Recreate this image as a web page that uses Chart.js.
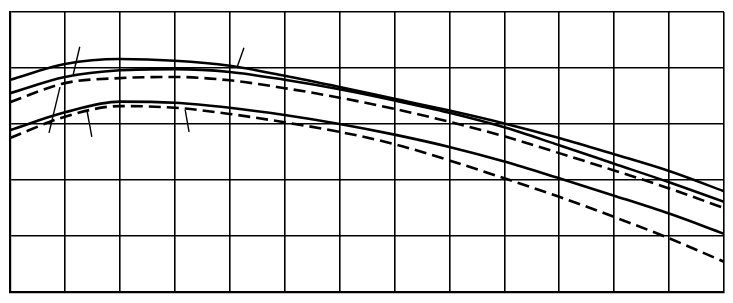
<!DOCTYPE html>
<html>
<head>
<meta charset="utf-8">
<script src="https://cdn.jsdelivr.net/npm/chart.js@4/dist/chart.umd.min.js"></script>
<style>
  html, body { margin: 0; padding: 0; background: #fff; }
  #wrap { width: 733px; height: 303px; }
</style>
</head>
<body>
<div id="wrap"><canvas id="curveChart"></canvas></div>
<script>
    // grid positions along x (13 divisions) and y (5 divisions)
    const xSteps = [0, 1, 2, 3, 4, 5, 6, 7, 8, 9, 10, 11, 12, 13];

    // upper group
    const upperSolidA = [3.79, 4.07, 4.16, 4.13, 4.04, 3.86, 3.66, 3.45, 3.24, 3.01, 2.75, 2.46, 2.16, 1.80];
    const upperSolidB = [3.55, 3.84, 3.96, 3.98, 3.93, 3.79, 3.62, 3.42, 3.20, 2.94, 2.62, 2.29, 1.96, 1.61];
    const upperDashed = [3.39, 3.73, 3.82, 3.84, 3.78, 3.64, 3.47, 3.27, 3.04, 2.78, 2.48, 2.17, 1.85, 1.50];

    // lower group
    const lowerSolid = [2.89, 3.21, 3.40, 3.38, 3.29, 3.16, 3.00, 2.81, 2.59, 2.33, 2.03, 1.72, 1.40, 1.04];
    const lowerDashed = [2.75, 3.13, 3.32, 3.29, 3.18, 3.03, 2.86, 2.64, 2.35, 2.03, 1.70, 1.34, 0.96, 0.54];

    // short leader marks pointing at the curves
    const leaders = [
        [[1.27, 4.38], [1.15, 3.88]],
        [[0.91, 3.66], [0.71, 2.84]],
        [[1.40, 3.25], [1.49, 2.77]],
        [[3.19, 3.25], [3.26, 2.86]],
        [[4.26, 4.36], [4.13, 4.00]]
    ];

    const toPoints = ys => ys.map((y, i) => ({ x: xSteps[i], y: y }));

    const curve = (ys, dashed) => ({
        data: toPoints(ys),
        borderColor: '#000',
        borderWidth: 2.6,
        borderDash: dashed ? [12, 6] : [],
        pointRadius: 0,
        cubicInterpolationMode: 'monotone',
        fill: false
    });

    const datasets = [
        curve(upperSolidA, false),
        curve(upperSolidB, false),
        curve(upperDashed, true),
        curve(lowerSolid, false),
        curve(lowerDashed, true)
    ];

    leaders.forEach(seg => {
        datasets.push({
            data: seg.map(p => ({ x: p[0], y: p[1] })),
            borderColor: '#000',
            borderWidth: 1.4,
            pointRadius: 0,
            tension: 0,
            fill: false
        });
    });

    const ctx = document.getElementById('curveChart').getContext('2d');
    new Chart(ctx, {
        type: 'line',
        data: { datasets: datasets },
        options: {
            responsive: true,
            maintainAspectRatio: false,
            animation: false,
            layout: { padding: { left: 10, right: 9, top: 12, bottom: 11 } },
            plugins: {
                legend: { display: false },
                tooltip: { enabled: false }
            },
            scales: {
                x: {
                    type: 'linear',
                    min: 0,
                    max: 13,
                    ticks: { display: false, stepSize: 1 },
                    grid: { color: '#000', lineWidth: 1.6, drawTicks: false },
                    border: { color: '#000', width: 2.2 }
                },
                y: {
                    type: 'linear',
                    min: 0,
                    max: 5,
                    ticks: { display: false, stepSize: 1 },
                    grid: { color: '#000', lineWidth: 1.6, drawTicks: false },
                    border: { color: '#000', width: 2.2 }
                }
            }
        }
    });
</script>
</body>
</html>
